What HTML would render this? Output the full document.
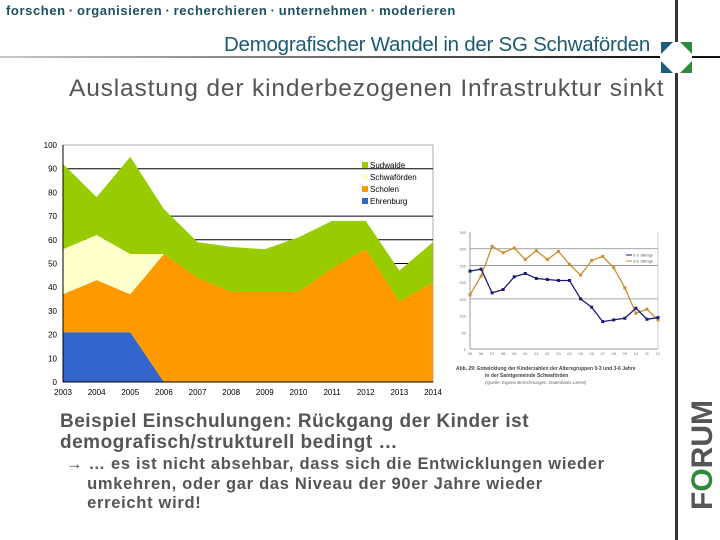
<!DOCTYPE html>
<html><head><meta charset="utf-8">
<style>
body{margin:0;width:720px;height:540px;overflow:hidden;background:#fff;font-family:"Liberation Sans",sans-serif;position:relative}
.abs{position:absolute;margin:0;white-space:nowrap}
</style></head><body>
<div class="abs" style="left:6px;top:3px;font-size:13px;color:#1d4f63;letter-spacing:0.6px;word-spacing:-1px;font-weight:bold">forschen · organisieren · recherchieren · unternehmen · moderieren</div>
<div class="abs" style="left:224px;top:33px;font-size:20.5px;color:#1d5a70;letter-spacing:-0.25px">Demografischer Wandel in der SG Schwaförden</div>
<div class="abs" style="left:69px;top:75px;font-size:24.5px;color:#555;letter-spacing:0.85px">Auslastung der kinderbezogenen Infrastruktur sinkt</div>
<div class="abs" style="left:60px;top:411px;font-size:19px;font-weight:bold;color:#555;line-height:21px;letter-spacing:0.5px">Beispiel Einschulungen: Rückgang der Kinder ist<br>demografisch/strukturell bedingt …</div>
<div class="abs" style="left:66px;top:455px;font-size:16.5px;font-weight:bold;color:#555;line-height:19.5px;letter-spacing:0.7px">→ … es ist nicht absehbar, dass sich die Entwicklungen wieder<br>&nbsp;&nbsp;&nbsp;&nbsp;umkehren, oder gar das Niveau der 90er Jahre wieder<br>&nbsp;&nbsp;&nbsp;&nbsp;erreicht wird!</div>

<svg width="720" height="540" style="position:absolute;left:0;top:0" id="svg">
<defs><linearGradient id="hg" x1="0" x2="1"><stop offset="0" stop-color="#c8c8c8"/><stop offset="1" stop-color="#111"/></linearGradient></defs>
<rect x="0" y="56" width="660" height="2" fill="url(#hg)"/>
<rect x="692" y="56" width="28" height="2" fill="#111"/>
<rect x="675" y="0" width="3" height="540" fill="#333"/>
<g>
<rect x="661" y="42" width="31" height="31" fill="#fff"/>
<polygon points="661,42 673,42 661,54" fill="#1d5a80"/>
<polygon points="692,42 680,42 692,54" fill="#2e8b3d"/>
<polygon points="661,73 673,73 661,61" fill="#1d5a80"/>
<polygon points="692,73 680,73 692,61" fill="#2e8b3d"/>
<circle cx="676.5" cy="57.5" r="12" fill="#fff"/>
</g>
<text transform="translate(712,510) rotate(-90)" font-family="Liberation Sans" font-weight="bold" font-size="30" fill="#555">F<tspan fill="#2e8b3d">O</tspan>RUM</text>
<g id="main"></g>
<g id="small"></g>
</svg>
<script>
const years=['2003','2004','2005','2006','2007','2008','2009','2010','2011','2012','2013','2014'];
const ehrenburg=[21,21,21,0,0,0,0,0,0,0,0,0];
const scholen=[16,22,16,54,44,38,38,38,48,56,34,42];
const schwafoerden=[19,19,17,0,0,0,0,0,0,0,0,0];
const sudwalde=[36,16,41,19,15,19,18,23,20,12,13,17];
const yTicks=[0,10,20,30,40,50,60,70,80,90,100];
const gridTicks=[50,60,70,90];
const seriesNames=['Sudwalde','Schwaförden','Scholen','Ehrenburg'];
const seriesColors=['#99cc00','#ffffcc','#ff9900','#3366cc'];

const smallYears=['95','96','97','98','99','00','01','02','03','04','05','06','07','08','09','10','11','12'];
const blue=[233,239,168,178,216,226,211,208,205,205,150,125,82,87,92,122,89,94];
const orange=[162,218,307,288,302,268,294,268,292,253,221,265,277,243,183,107,119,87];
const smallTicks=[0,50,100,150,200,250,300,350];

const NS='http://www.w3.org/2000/svg';
function mk(p,tag,attrs){const e=document.createElementNS(NS,tag);for(const k in attrs)e.setAttribute(k,attrs[k]);p.appendChild(e);return e;}
const main=document.getElementById('main');
const X0=63,X1=433,Y0=382,Y1=145;
const x=i=>X0+(X1-X0)*i/(years.length-1);
const y=v=>Y0-(Y0-Y1)*v/100;
let r=mk(main,'rect',{x:X0,y:Y1,width:X1-X0,height:Y0-Y1,fill:'#fff',stroke:'#aaa'});

gridTicks.forEach(t=>{
 const l=mk(main,'line',{x1:X0,x2:X1,y1:y(t),y2:y(t),stroke:'#000','stroke-width':1});
 
});
yTicks.forEach(t=>{
 const tx=mk(main,'text',{x:X0-6,y:y(t)+3,'font-size':8,'text-anchor':'end','font-family':'Liberation Sans',fill:'#000'});tx.textContent=t;
 
});
years.forEach((yr,i)=>{const tx=mk(main,'text',{x:x(i),y:Y0+13,'font-size':8,'text-anchor':'middle','font-family':'Liberation Sans'});tx.textContent=yr;
 });
const layers=[ehrenburg,scholen,schwafoerden,sudwalde];
const layerColors=['#3366cc','#ff9900','#ffffcc','#99cc00'];
const layerNames=['area-ehrenburg','area-scholen','area-schwafoerden','area-sudwalde'];
let base=years.map(()=>0);
layers.forEach((L,k)=>{
 const top=base.map((b,i)=>b+L[i]);
 let pts=top.map((v,i)=>x(i)+','+y(v));
 for(let i=years.length-1;i>=0;i--)pts.push(x(i)+','+y(base[i]));
 const p=mk(main,'polygon',{points:pts.join(' '),fill:layerColors[k]});
 
 base=top;
});
mk(main,'line',{x1:X0,x2:X0,y1:Y1,y2:Y0,stroke:'#000'});
mk(main,'line',{x1:X0,x2:X1,y1:Y0,y2:Y0,stroke:'#000'});
seriesNames.forEach((n,i)=>{
 const g=mk(main,'g',{});
 mk(g,'rect',{x:362,y:162+i*12,width:6,height:6,fill:seriesColors[i]});
 const t=mk(g,'text',{x:370,y:168+i*12,'font-size':8,'font-family':'Liberation Sans'});t.textContent=n;
});

const sm=document.getElementById('small');
const SX0=470,SX1=658,SY0=349,SY1=232;
const sx=i=>SX0+(SX1-SX0)*i/(smallYears.length-1);
const sy=v=>SY0-(SY0-SY1)*v/350;
[150,250,300].forEach(t=>{const l=mk(sm,'line',{x1:SX0,x2:SX1,y1:sy(t),y2:sy(t),stroke:'#888','stroke-width':0.8});
 });
mk(sm,'line',{x1:SX0,x2:SX0,y1:SY1,y2:SY0,stroke:'#999'});
mk(sm,'line',{x1:SX0,x2:SX1,y1:SY0,y2:SY0,stroke:'#999'});
mk(sm,'line',{x1:SX1,x2:SX1,y1:SY1,y2:SY0,stroke:'#ccc'});
smallTicks.forEach(t=>{const tx=mk(sm,'text',{x:SX0-4,y:sy(t)+2,'font-size':4,'text-anchor':'end',fill:'#777'});tx.textContent=t;
 });
smallYears.forEach((yr,i)=>{const tx=mk(sm,'text',{x:sx(i),y:SY0+6,'font-size':4,'text-anchor':'middle',fill:'#777'});tx.textContent=yr;
 });
[[orange,'#c8902e','line-orange'],[blue,'#1a1a7a','line-blue']].forEach(([d,c,n])=>{
 const pl=mk(sm,'polyline',{points:d.map((v,i)=>sx(i)+','+sy(v)).join(' '),fill:'none',stroke:c,'stroke-width':1.3});
 
 d.forEach((v,i)=>{const m=mk(sm,'rect',{x:sx(i)-1.5,y:sy(v)-1.5,width:3,height:3,fill:c});
  });
});
const lg=mk(sm,'g',{});
mk(lg,'line',{x1:626,x2:632,y1:255,y2:255,stroke:'#1a1a7a'});
mk(lg,'line',{x1:626,x2:632,y1:261,y2:261,stroke:'#c8902e'});
let lt=mk(lg,'text',{x:633,y:256.5,'font-size':4,fill:'#555'});lt.textContent='0-3 Jährige';
lt=mk(lg,'text',{x:633,y:262.5,'font-size':4,fill:'#555'});lt.textContent='3-6 Jährige';
const cap=mk(sm,'text',{x:456,y:370,'font-size':5,fill:'#444','font-weight':'bold'});cap.textContent='Abb. 29: Entwicklung der Kinderzahlen der Altersgruppen 0-3 und 3-6 Jahre';

const cap2=mk(sm,'text',{x:485,y:377,'font-size':5,fill:'#444','font-weight':'bold'});cap2.textContent='in der Samtgemeinde Schwaförden';
const cap3=mk(sm,'text',{x:485,y:384,'font-size':4.5,fill:'#666'});cap3.textContent='(Quelle: Eigene Berechnungen, Datenbasis LSKN)';
</script>
</body></html>
